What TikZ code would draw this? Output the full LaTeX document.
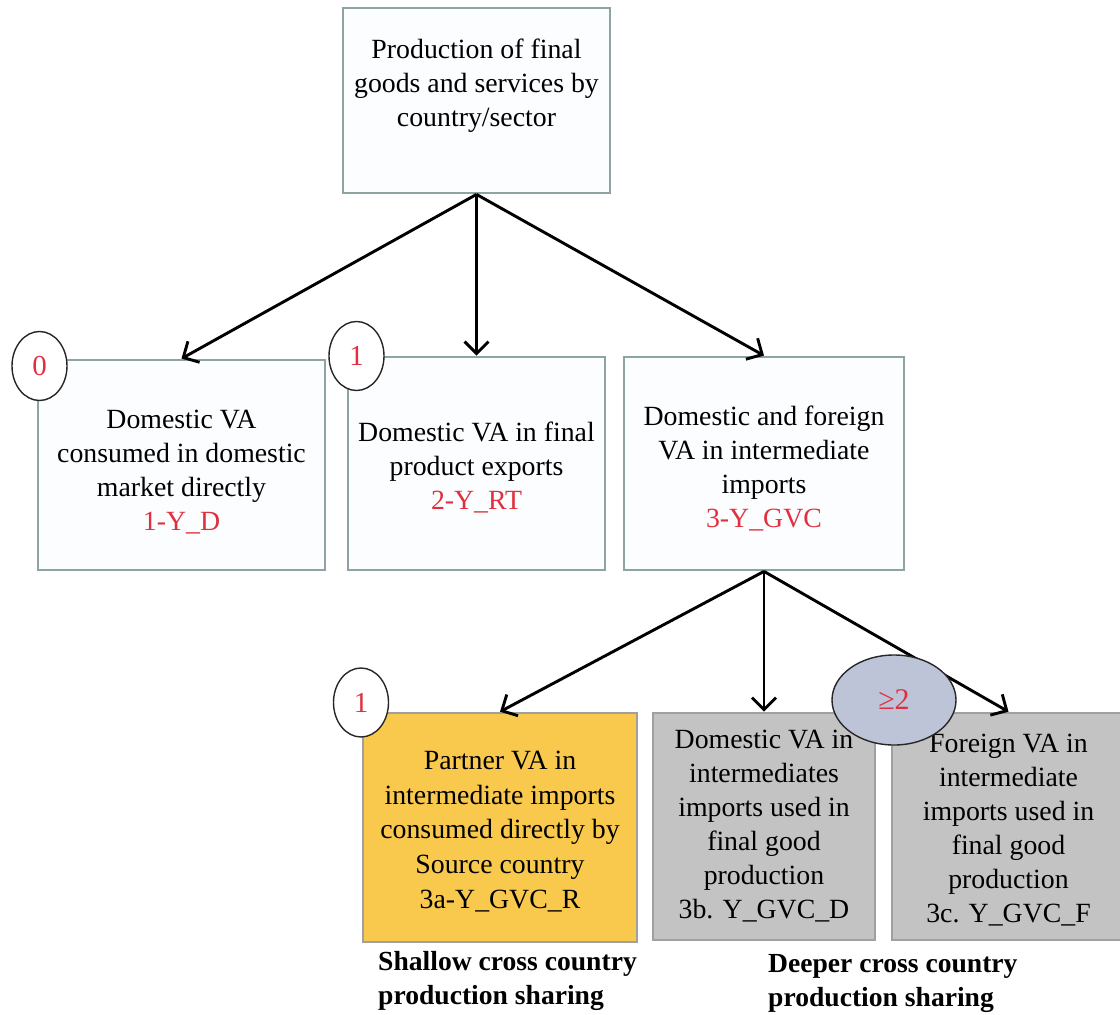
\documentclass[tikz,border=0pt]{standalone}
\usepackage{fontspec}
\setmainfont{Liberation Serif}
\usetikzlibrary{arrows.meta,shapes.geometric}

\definecolor{boxline}{HTML}{8FA3A3}
\definecolor{boxfill}{HTML}{FCFDFE}
\definecolor{labred}{HTML}{E0303F}
\definecolor{shallowfill}{HTML}{F9C94D}
\definecolor{deepfill}{HTML}{C3C3C3}
\definecolor{deepline}{HTML}{A0A0A0}
\definecolor{ovalfill}{HTML}{BDC4D8}

\begin{document}
\begin{tikzpicture}[x=1pt,y=-1pt,
  txt/.style={font=\fontsize{27.8}{34}\selectfont, align=center, inner sep=0pt},
  plainbox/.style={draw=boxline, line width=2.8pt, fill=boxfill, rectangle},
  shallowbox/.style={draw=deepline, line width=2.6pt, fill=shallowfill, rectangle},
  deepbox/.style={draw=deepline, line width=2.6pt, fill=deepfill, rectangle},
  flow/.style={draw=black, line width=2.9pt, -{Straight Barb[length=12pt,width=24pt]}},
  badge/.style={ellipse, draw=black!85, line width=1.4pt, fill=white, inner sep=0pt,
    minimum width=55pt, minimum height=69pt, text=labred,
    font=\fontsize{29}{32}\selectfont},
  note/.style={font=\bfseries\fontsize{27.6}{34}\selectfont, align=left, inner sep=0pt}
]
\useasboundingbox (0,0) rectangle (1120,1015);
\fill[white] (0,0) rectangle (1120,1015);

% boxes
\node[plainbox, minimum width=267pt, minimum height=185pt] (top) at (476.5,100.5) {};
\node[plainbox, minimum width=287pt, minimum height=210pt] (yd) at (181.5,465) {};
\node[plainbox, minimum width=257pt, minimum height=213pt] (yrt) at (476.5,463.5) {};
\node[plainbox, minimum width=280pt, minimum height=213pt] (ygvc) at (764,463.5) {};
\node[shallowbox, minimum width=274pt, minimum height=229pt] (yr) at (500,827.5) {};
\node[deepbox, minimum width=222pt, minimum height=227pt] (ygd) at (764,826.5) {};
\node[deepbox, minimum width=233pt, minimum height=227pt] (ygf) at (1008.5,826.5) {};

% box texts
\node[txt] (toptxt) at ([yshift=-2pt]top.center |- 0,84)
  {Production of final\\goods and services by\\country/sector};
\node[txt] (ydtxt) at ([yshift=-7pt]yd.center)
  {Domestic VA\\consumed in domestic\\market directly\\\textcolor{labred}{1-Y\_D}};
\node[txt] (yrttxt) at ([yshift=-4pt]yrt.center)
  {Domestic VA in final\\product exports\\\textcolor{labred}{2-Y\_RT}};
\node[txt] (ygvctxt) at ([yshift=-5pt]ygvc.center)
  {Domestic and foreign\\VA in intermediate\\imports\\\textcolor{labred}{3-Y\_GVC}};
\node[txt, font=\fontsize{27.8}{34.8}\selectfont] (yrtxt) at ([yshift=-4pt]yr.center)
  {Partner VA in\\intermediate imports\\consumed directly by\\Source country\\3a-Y\_GVC\_R};
\node[txt] (ygdtxt) at (ygd.center)
  {Domestic VA in\\intermediates\\imports used in\\final good\\production\\3b. Y\_GVC\_D};
\node[txt] (ygftxt) at ([yshift=-4pt]ygf.center)
  {Foreign VA in\\intermediate\\imports used in\\final good\\production\\3c. Y\_GVC\_F};

% connectors
\draw[flow] (top.south) -- (yd.north);
\draw[flow] (top.south) -- (yrt.north);
\draw[flow] (top.south) -- (ygvc.north);
\draw[flow] (ygvc.south) -- (yr.north);
\draw[flow] (ygvc.south) -- (ygd.north);
\draw[flow] (ygvc.south) -- (ygf.north);

% stage markers
\node[badge] (b0) at (39.5,366) {0};
\node[badge] (b1) at (356.5,356) {1};
\node[badge] (b1a) at (361,702.5) {1};
\node[ellipse, draw=black!85, line width=1.4pt, fill=ovalfill, inner sep=0pt,
  minimum width=124pt, minimum height=90pt, text=labred,
  font=\fontsize{30}{32}\selectfont] (b2) at (894,700) {≥2};

% captions
\node[note, anchor=north west] (shallow) at (378,951) {Shallow cross country\\production sharing};
\node[note, anchor=north west] (deeper) at (768,954) {Deeper cross country\\production sharing};
\end{tikzpicture}
\end{document}
